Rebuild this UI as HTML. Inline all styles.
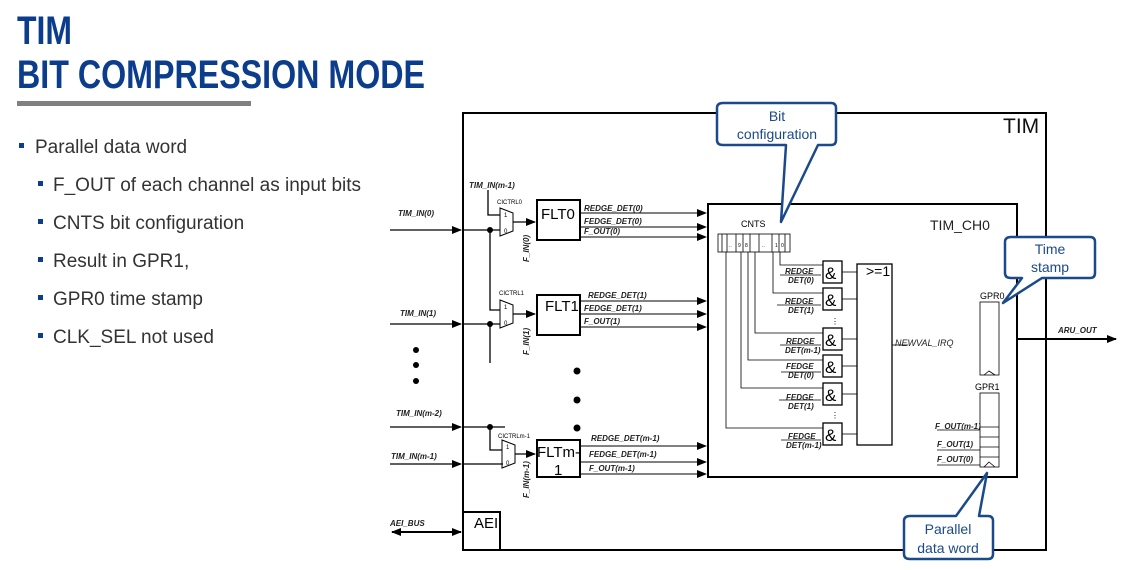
<!DOCTYPE html>
<html><head><meta charset="utf-8"><style>
body{margin:0;background:#fff;width:1122px;height:570px;overflow:hidden}
svg{display:block;font-family:"Liberation Sans",sans-serif}
.s{font-size:8px;font-style:italic;font-weight:bold;fill:#222}
.l{font-size:9px;font-style:italic;fill:#222}
</style></head><body>
<svg width="1122" height="570" viewBox="0 0 1122 570">
<defs><marker id="a" markerWidth="10" markerHeight="8" refX="9" refY="4" orient="auto" markerUnits="userSpaceOnUse"><path d="M0,0L10,4L0,8z" fill="#000"/></marker>
<marker id="b" markerWidth="10" markerHeight="8" refX="1" refY="4" orient="auto" markerUnits="userSpaceOnUse"><path d="M10,0L0,4L10,8z" fill="#000"/></marker></defs>
<!-- title -->
<g fill="#0b3d8c" font-weight="bold" font-size="40"><text x="17" y="44" textLength="55" lengthAdjust="spacingAndGlyphs">TIM</text><text x="17" y="88" textLength="408" lengthAdjust="spacingAndGlyphs">BIT COMPRESSION MODE</text></g>
<rect x="17" y="101" width="234" height="5" fill="#808080"/>
<g font-size="19" fill="#333">
<rect x="19" y="143" width="5" height="5" fill="#0b3d8c"/><text x="35" y="153">Parallel data word</text>
<rect x="38" y="181" width="5" height="5" fill="#0b3d8c"/><text x="53" y="191">F_OUT of each channel as input bits</text>
<rect x="38" y="219" width="5" height="5" fill="#0b3d8c"/><text x="53" y="229">CNTS bit configuration</text>
<rect x="38" y="257" width="5" height="5" fill="#0b3d8c"/><text x="53" y="267">Result in GPR1,</text>
<rect x="38" y="295" width="5" height="5" fill="#0b3d8c"/><text x="53" y="305">GPR0 time stamp</text>
<rect x="38" y="333" width="5" height="5" fill="#0b3d8c"/><text x="53" y="343">CLK_SEL not used</text>
</g>
<!-- TIM box -->
<rect x="463" y="113" width="583" height="437" fill="none" stroke="#000" stroke-width="2"/>
<text x="1003" y="133" font-size="21" fill="#111">TIM</text>
<rect x="463" y="512" width="37" height="38" fill="none" stroke="#000" stroke-width="2"/>
<text x="474" y="528" font-size="15">AEI</text>
<line x1="392" y1="532" x2="461" y2="532" stroke="#000" stroke-width="2" marker-end="url(#a)" marker-start="url(#b)"/>
<text x="390" y="526" class="s">AEI_BUS</text>
<!-- inputs -->
<g stroke="#000" stroke-width="1.3" fill="none">
<line x1="390" y1="230" x2="461" y2="230" marker-end="url(#a)"/>
<line x1="390" y1="324" x2="461" y2="324" marker-end="url(#a)"/>
<line x1="390" y1="427" x2="461" y2="427" marker-end="url(#a)"/>
<line x1="390" y1="464" x2="461" y2="464" marker-end="url(#a)"/>
<line x1="463" y1="230" x2="500" y2="230"/><line x1="463" y1="324" x2="500" y2="324"/>
<line x1="463" y1="427" x2="505" y2="427"/><line x1="463" y1="464" x2="503" y2="464"/>
<polyline points="488,190 488,215 500,215"/>
<polyline points="490,230 490,310 500,310"/>
<line x1="490" y1="324" x2="490" y2="363"/>
<polyline points="490,427 490,450 502,450"/>
<path d="M500,208 L513,213 L513,231 L500,236 Z" stroke-width="1"/>
<path d="M500,300 L513,305 L513,323 L500,328 Z" stroke-width="1"/>
<path d="M502,440 L515,445 L515,463 L502,468 Z" stroke-width="1"/>
<line x1="513" y1="222" x2="535" y2="222" marker-end="url(#a)"/>
<line x1="513" y1="314" x2="535" y2="314" marker-end="url(#a)"/>
<line x1="515" y1="454" x2="535" y2="454" marker-end="url(#a)"/>
<rect x="537" y="200" width="43" height="40" stroke-width="2"/>
<rect x="537" y="295" width="43" height="40" stroke-width="2"/>
<rect x="537" y="440" width="43" height="37" stroke-width="2"/>
<g stroke-width="1"><line x1="580" y1="213" x2="706" y2="213" marker-end="url(#a)"/><line x1="580" y1="227" x2="706" y2="227" marker-end="url(#a)"/><line x1="580" y1="237" x2="706" y2="237" marker-end="url(#a)"/>
<line x1="580" y1="301" x2="706" y2="301" marker-end="url(#a)"/><line x1="580" y1="314" x2="706" y2="314" marker-end="url(#a)"/><line x1="580" y1="327" x2="706" y2="327" marker-end="url(#a)"/>
<line x1="580" y1="446" x2="706" y2="446" marker-end="url(#a)"/><line x1="580" y1="462" x2="706" y2="462" marker-end="url(#a)"/><line x1="580" y1="474" x2="706" y2="474" marker-end="url(#a)"/></g>
</g>
<g fill="#000"><circle cx="490" cy="230" r="3"/><circle cx="490" cy="324" r="3"/><circle cx="490" cy="427" r="3"/>
<circle cx="416" cy="350" r="3"/><circle cx="416" cy="365" r="3"/><circle cx="416" cy="381" r="3"/>
<circle cx="577" cy="371" r="3.5"/><circle cx="577" cy="400" r="3.5"/><circle cx="577" cy="428" r="3.5"/></g>
<g font-size="15" fill="#000"><text x="541" y="219">FLT0</text><text x="545" y="311">FLT1</text><text x="537" y="457">FLTm-</text><text x="554" y="475">1</text></g>
<g font-size="6" fill="#000"><text x="497" y="204">CICTRL0</text><text x="499" y="295">CICTRL1</text><text x="498" y="438">CICTRLm-1</text>
<text x="504" y="217">1</text><text x="504" y="233">0</text><text x="504" y="309">1</text><text x="504" y="325">0</text><text x="506" y="449">1</text><text x="506" y="465">0</text></g>
<g class="s" font-size="8.5"><text x="469" y="188">TIM_IN(m-1)</text><text x="398" y="216">TIM_IN(0)</text><text x="400" y="316">TIM_IN(1)</text><text x="396" y="416">TIM_IN(m-2)</text><text x="391" y="459">TIM_IN(m-1)</text>
<text transform="translate(529,262) rotate(-90)">F_IN(0)</text><text transform="translate(529,355) rotate(-90)">F_IN(1)</text><text transform="translate(529,498) rotate(-90)">F_IN(m-1)</text></g>
<g class="s" font-size="7"><text x="584" y="211">REDGE_DET(0)</text><text x="584" y="224">FEDGE_DET(0)</text><text x="584" y="234">F_OUT(0)</text>
<text x="588" y="298">REDGE_DET(1)</text><text x="584" y="311">FEDGE_DET(1)</text><text x="584" y="324">F_OUT(1)</text>
<text x="591" y="441">REDGE_DET(m-1)</text><text x="589" y="457">FEDGE_DET(m-1)</text><text x="589" y="471">F_OUT(m-1)</text></g>
<!-- TIM_CH0 -->
<rect x="708" y="204" width="309" height="273" fill="none" stroke="#000" stroke-width="2"/>
<text x="930" y="230" font-size="14" fill="#222">TIM_CH0</text>
<text x="741" y="227" font-size="9">CNTS</text>
<g stroke="#000" stroke-width="0.8" fill="none">
<rect x="718" y="234" width="72" height="18"/>
<line x1="722" y1="234" x2="722" y2="252"/><line x1="727" y1="234" x2="727" y2="252"/><line x1="736" y1="234" x2="736" y2="252"/><line x1="743" y1="234" x2="743" y2="252"/><line x1="750" y1="234" x2="750" y2="252"/><line x1="759" y1="234" x2="759" y2="252"/><line x1="772" y1="234" x2="772" y2="252"/><line x1="779" y1="234" x2="779" y2="252"/><line x1="785" y1="234" x2="785" y2="252"/>
<polyline points="780,252 780,265 823,265"/><polyline points="773,252 773,293 823,293"/><polyline points="755,252 755,333 823,333"/><polyline points="748,252 748,360 823,360"/><polyline points="741,252 741,388 823,388"/><polyline points="726,252 726,428 823,428"/>
<g stroke-width="1.3"><rect x="823" y="261" width="19" height="22"/><rect x="823" y="288" width="19" height="22"/><rect x="823" y="328" width="19" height="22"/><rect x="823" y="355" width="19" height="22"/><rect x="823" y="383" width="19" height="22"/><rect x="823" y="423" width="19" height="22"/>
<rect x="857" y="264" width="35" height="181"/></g>
<line x1="842" y1="272" x2="857" y2="272"/><line x1="842" y1="299" x2="857" y2="299"/><line x1="842" y1="339" x2="857" y2="339"/><line x1="842" y1="366" x2="857" y2="366"/><line x1="842" y1="394" x2="857" y2="394"/><line x1="842" y1="434" x2="857" y2="434"/>
<line x1="780" y1="275" x2="821" y2="275"/><line x1="777" y1="305" x2="821" y2="305"/><line x1="780" y1="345" x2="821" y2="345"/><line x1="781" y1="372" x2="821" y2="372"/><line x1="779" y1="400" x2="821" y2="400"/><line x1="781" y1="440" x2="821" y2="440"/>
<line x1="892" y1="345" x2="908" y2="345"/>
<rect x="980" y="302" width="19" height="73"/><polyline points="984,375 989,371 995,375"/>
<rect x="980" y="393" width="19" height="74"/><line x1="980" y1="427" x2="999" y2="427"/><line x1="980" y1="437" x2="999" y2="437"/><line x1="980" y1="447" x2="999" y2="447"/><line x1="980" y1="457" x2="999" y2="457"/><polyline points="984,467 989,462 995,467"/>
<line x1="937" y1="430" x2="980" y2="430"/><line x1="937" y1="450" x2="980" y2="450"/><line x1="937" y1="465" x2="980" y2="465"/>
</g>
<line x1="1017" y1="339" x2="1116" y2="339" stroke="#000" stroke-width="2" marker-end="url(#a)"/>
<text x="1058" y="333" class="s" font-size="9">ARU_OUT</text>
<g font-size="5" fill="#000"><text x="738" y="247">9</text><text x="745" y="247">8</text><text x="775" y="247">1</text><text x="781" y="247">0</text><text x="729" y="247">..</text><text x="762" y="247">..</text></g>
<g font-size="17" fill="#000"><text x="825" y="279">&amp;</text><text x="825" y="306">&amp;</text><text x="825" y="346">&amp;</text><text x="825" y="373">&amp;</text><text x="825" y="401">&amp;</text><text x="825" y="441">&amp;</text></g>
<text x="866" y="276" font-size="14">&gt;=1</text>
<g class="s" font-size="7"><text x="785" y="274">REDGE</text><text x="788" y="283">DET(0)</text><text x="785" y="304">REDGE</text><text x="788" y="313">DET(1)</text><text x="786" y="344">REDGE</text><text x="785" y="353">DET(m-1)</text><text x="786" y="369">FEDGE</text><text x="788" y="378">DET(0)</text><text x="786" y="400">FEDGE</text><text x="788" y="409">DET(1)</text><text x="788" y="439">FEDGE</text><text x="786" y="448">DET(m-1)</text>
<text x="935" y="429">F_OUT(m-1)</text><text x="937" y="447">F_OUT(1)</text><text x="937" y="462">F_OUT(0)</text></g>
<text x="895" y="346" class="l">NEWVAL_IRQ</text>
<text x="980" y="299" font-size="9">GPR0</text><text x="975" y="390" font-size="9">GPR1</text>
<g font-size="8" fill="#000"><text x="831" y="324">⋮</text><text x="831" y="418">⋮</text></g>
<!-- callouts -->
<g fill="#fff" stroke="#1b4a8a" stroke-width="2.5" stroke-linejoin="round">
<path d="M723,103 H831 Q836,103 836,108 V140 Q836,145 831,145 H818 L781,222 L786,145 H723 Q717,145 717,140 V108 Q717,103 723,103 Z"/>
<path d="M1011,237 H1090 Q1095,237 1095,242 V273 Q1095,278 1090,278 H1042 L1003,303 L1022,278 H1011 Q1005,278 1005,273 V242 Q1005,237 1011,237 Z"/>
<path d="M910,516 H956 L987,473 L979,516 H988 Q993,516 993,521 V554 Q993,559 988,559 H910 Q904,559 904,554 V521 Q904,516 910,516 Z"/>
</g>
<g font-size="14" fill="#1b4a8a" text-anchor="middle"><text x="777" y="121">Bit</text><text x="777" y="139">configuration</text>
<text x="1050" y="254">Time</text><text x="1050" y="272">stamp</text>
<text x="948" y="534">Parallel</text><text x="948" y="553">data word</text></g>
</svg>
</body></html>
